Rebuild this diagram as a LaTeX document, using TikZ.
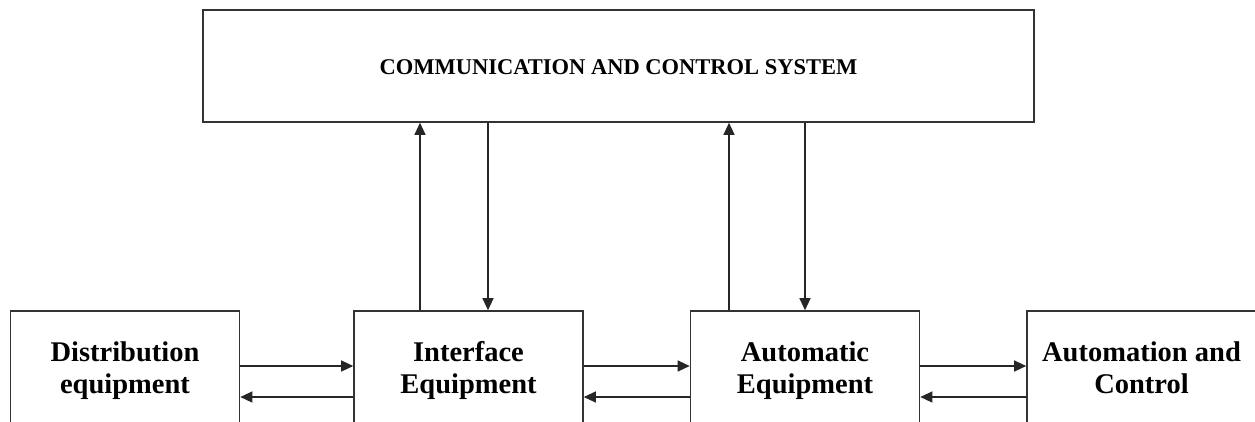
\documentclass[tikz,border=0pt]{standalone}
\usepackage{fontspec}
\setmainfont{Liberation Serif}
\usetikzlibrary{arrows.meta}
\begin{document}
\begin{tikzpicture}[x=1pt,y=-1pt,
  box/.style={draw=black!80, line width=1.6pt, fill=white, inner sep=0pt},
  lowbox/.style={box, minimum width=229pt, minimum height=114pt, align=center,
     font=\bfseries\fontsize{28.5}{32}\selectfont},
  arr/.style={draw=black!85, line width=1.2pt, -{Triangle[length=12pt,width=11pt]}}]
\useasboundingbox (0,0) rectangle (1255,421);
\clip (0,0) rectangle (1255,421);
\fill[white] (0,0) rectangle (1255,421);
\node[box, minimum width=831pt, minimum height=112pt] (top) at (618.5,66) {};
\node[font=\bfseries\fontsize{22.5}{26}\selectfont] (toplabel) at (618.5,67) {COMMUNICATION AND CONTROL SYSTEM};
\node[lowbox] (b1) at (125,368) {};
\node[lowbox] (b2) at (468.5,368) {};
\node[lowbox] (b3) at (805,368) {};
\node[lowbox] (b4) at (1141.5,368) {};
\node[font=\bfseries\fontsize{28.5}{32}\selectfont, align=center] (t1) at (125,371) {Distribution\strut\\equipment\strut};
\node[font=\bfseries\fontsize{28.5}{32}\selectfont, align=center] (t2) at (468.5,371) {Interface\strut\\Equipment\strut};
\node[font=\bfseries\fontsize{28.5}{32}\selectfont, align=center] (t3) at (805,371) {Automatic\strut\\Equipment\strut};
\node[font=\bfseries\fontsize{28.5}{32}\selectfont, align=center] (t4) at (1141.5,371) {Automation and\strut\\Control\strut};
\coordinate (r1) at (0,366);
\coordinate (r2) at (0,397);
\coordinate (c1) at (420,0);
\coordinate (c2) at (488,0);
\coordinate (c3) at (729,0);
\coordinate (c4) at (805,0);
\draw[arr] (b1.east |- r1) -- (b2.west |- r1);
\draw[arr] (b2.west |- r2) -- (b1.east |- r2);
\draw[arr] (b2.east |- r1) -- (b3.west |- r1);
\draw[arr] (b3.west |- r2) -- (b2.east |- r2);
\draw[arr] (b3.east |- r1) -- (b4.west |- r1);
\draw[arr] (b4.west |- r2) -- (b3.east |- r2);
\draw[arr] (b2.north -| c1) -- (top.south -| c1);
\draw[arr] (top.south -| c2) -- (b2.north -| c2);
\draw[arr] (b3.north -| c3) -- (top.south -| c3);
\draw[arr] (top.south -| c4) -- (b3.north -| c4);
\end{tikzpicture}
\end{document}
